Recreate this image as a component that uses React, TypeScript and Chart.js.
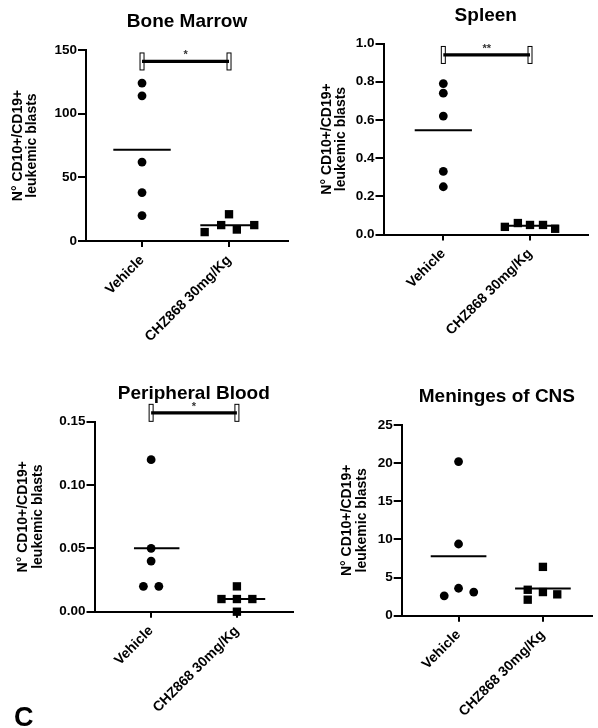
import React, { useEffect, useRef } from 'react';
import { Chart, registerables } from 'chart.js';

Chart.register(...registerables);

// ---------- data ----------
const categories = ['Vehicle', 'CHZ868 30mg/Kg'];
const yAxisTitle = ['N° CD10+/CD19+', 'leukemic blasts'];
const panelTitles = ['Bone Marrow', 'Spleen', 'Peripheral Blood', 'Meninges of CNS'];

const boneMarrowVehicle = [124, 114, 62, 38, 20];
const boneMarrowVehicleJitter = [0, 0, 0, 0, 0];
const boneMarrowChz = [7, 12.5, 21, 9, 12.5];
const boneMarrowChzJitter = [-0.28, -0.09, 0, 0.09, 0.29];
const boneMarrowAxis = [0, 150, 50, 0]; // min, max, step, decimals

const spleenVehicle = [0.79, 0.74, 0.62, 0.33, 0.25];
const spleenVehicleJitter = [0, 0, 0, 0, 0];
const spleenChz = [0.04, 0.06, 0.05, 0.05, 0.03];
const spleenChzJitter = [-0.29, -0.14, 0, 0.15, 0.29];
const spleenAxis = [0, 1.0, 0.2, 1];

const bloodVehicle = [0.12, 0.05, 0.04, 0.02, 0.02];
const bloodVehicleJitter = [0, 0, 0, -0.09, 0.09];
const bloodChz = [0.02, 0.01, 0.01, 0.01, 0.0];
const bloodChzJitter = [0, -0.18, 0, 0.18, 0];
const bloodAxis = [0, 0.15, 0.05, 2];

const cnsVehicle = [20.2, 9.4, 3.6, 2.6, 3.1];
const cnsVehicleJitter = [0, 0, 0, -0.17, 0.18];
const cnsChz = [6.4, 3.4, 2.1, 3.1, 2.8];
const cnsChzJitter = [0, -0.18, -0.18, 0, 0.17];
const cnsAxis = [0, 25, 5, 0];

// significance bars: [y value, label] (null = none)
const significance: ([number, string] | null)[] = [[141, '*'], [0.94, '**'], [0.157, '*'], null];

// ---------- layout / style ----------
const FONT = "'Liberation Sans', Arial, Helvetica, sans-serif";

type Layout = {
  box: { left: number; top: number; width: number; height: number };
  plot: { left: number; top: number; right: number; bottom: number };
  xRange: [number, number];
  titleCenter: number;
  yTitleMid: number;
  meanSpan: [number, number];
};

const layouts: Layout[] = [
  { box: { left: 0, top: 0, width: 299, height: 355 }, plot: { left: 86, top: 50, right: 288, bottom: 241 }, xRange: [0.356, 2.678], titleCenter: 22, yTitleMid: 25, meanSpan: [-0.33, 0.33] },
  { box: { left: 299, top: 0, width: 299, height: 355 }, plot: { left: 383.5, top: 43.5, right: 588, bottom: 234.5 }, xRange: [0.31, 2.669], titleCenter: 15.5, yTitleMid: 334, meanSpan: [-0.33, 0.33] },
  { box: { left: 0, top: 360, width: 299, height: 368 }, plot: { left: 94.5, top: 421.7, right: 295, bottom: 611.7 }, xRange: [0.34, 2.655], titleCenter: 393.5, yTitleMid: 30.5, meanSpan: [-0.2, 0.33] },
  { box: { left: 299, top: 360, width: 299, height: 368 }, plot: { left: 401.7, top: 425, right: 598, bottom: 615.7 }, xRange: [0.326, 2.583], titleCenter: 397, yTitleMid: 354.5, meanSpan: [-0.33, 0.33] },
];

const panelData = [
  { v: boneMarrowVehicle, vj: boneMarrowVehicleJitter, c: boneMarrowChz, cj: boneMarrowChzJitter, axis: boneMarrowAxis },
  { v: spleenVehicle, vj: spleenVehicleJitter, c: spleenChz, cj: spleenChzJitter, axis: spleenAxis },
  { v: bloodVehicle, vj: bloodVehicleJitter, c: bloodChz, cj: bloodChzJitter, axis: bloodAxis },
  { v: cnsVehicle, vj: cnsVehicleJitter, c: cnsChz, cj: cnsChzJitter, axis: cnsAxis },
];

const mean = (a: number[]) => a.reduce((s, x) => s + x, 0) / a.length;

const sigPlugin = {
  id: 'sigBar',
  afterDatasetsDraw(chart: any, _args: any, opts: any) {
    const sig = opts && opts.sig;
    if (!sig) return;
    const { ctx } = chart;
    const xs = chart.scales.x;
    const ys = chart.scales.y;
    const x1 = xs.getPixelForValue(1);
    const x2 = xs.getPixelForValue(2);
    const y = ys.getPixelForValue(sig[0]);
    ctx.save();
    for (const x of [x1, x2]) {
      ctx.fillStyle = '#fff';
      ctx.strokeStyle = '#000';
      ctx.lineWidth = 1;
      ctx.fillRect(x - 2, y - 8.5, 4, 17);
      ctx.strokeRect(x - 2, y - 8.5, 4, 17);
    }
    ctx.beginPath();
    ctx.moveTo(x1, y);
    ctx.lineTo(x2, y);
    ctx.lineWidth = 3.3;
    ctx.strokeStyle = '#000';
    ctx.stroke();
    ctx.fillStyle = '#333';
    ctx.font = `bold 11px ${FONT}`;
    ctx.textAlign = 'center';
    ctx.textBaseline = 'middle';
    ctx.fillText(sig[1], (x1 + x2) / 2, y - 6);
    ctx.restore();
  },
};

function Panel({ index }: { index: number }) {
  const ref = useRef<HTMLCanvasElement>(null);
  const L = layouts[index];
  useEffect(() => {
    const d = panelData[index];
    const [yMin, yMax, yStep, dec] = d.axis;
    const vMean = mean(d.v);
    const cMean = mean(d.c);
    const titleLH = 19 * 1.2;
    const yTitleLH = 14 * 1.05;
    const yTitleFirst = L.yTitleMid - yTitleLH / 2 - L.box.left;
    const chart = new Chart(ref.current as HTMLCanvasElement, {
      type: 'scatter',
      data: {
        datasets: [
          {
            type: 'scatter',
            data: d.v.map((y, i) => ({ x: 1 + d.vj[i], y })),
            pointStyle: 'circle',
            pointRadius: 4.4,
            pointBorderWidth: 0,
            backgroundColor: '#000',
            borderColor: '#000',
            clip: false,
          } as any,
          {
            type: 'scatter',
            data: d.c.map((y, i) => ({ x: 2 + d.cj[i], y })),
            pointStyle: 'rect',
            pointRadius: 5.9,
            pointBorderWidth: 0,
            backgroundColor: '#000',
            borderColor: '#000',
            clip: false,
          } as any,
          {
            type: 'line',
            data: [{ x: 1 + L.meanSpan[0], y: vMean }, { x: 1 + L.meanSpan[1], y: vMean }],
            borderColor: '#000',
            borderWidth: 2,
            pointRadius: 0,
            showLine: true,
            clip: false,
          } as any,
          {
            type: 'line',
            data: [{ x: 2 + L.meanSpan[0], y: cMean }, { x: 2 + L.meanSpan[1], y: cMean }],
            borderColor: '#000',
            borderWidth: 2,
            pointRadius: 0,
            showLine: true,
            clip: false,
          } as any,
        ],
      },
      options: {
        animation: false,
        responsive: false,
        maintainAspectRatio: false,
        devicePixelRatio: 1,
        events: [],
        layout: {
          padding: { left: 0, top: 0, bottom: 0, right: L.box.left + L.box.width - L.plot.right },
        },
        plugins: {
          legend: { display: false },
          tooltip: { enabled: false },
          title: {
            display: true,
            text: panelTitles[index],
            fullSize: false,
            color: '#000',
            font: { family: FONT, size: 19, weight: 'bold', lineHeight: 1.2 },
            padding: {
              top: L.titleCenter - L.box.top - titleLH / 2,
              bottom: L.plot.top - L.titleCenter - titleLH / 2,
            },
          },
          sigBar: { sig: significance[index] },
        } as any,
        scales: {
          x: {
            type: 'linear',
            min: L.xRange[0],
            max: L.xRange[1],
            afterBuildTicks: (s: any) => {
              s.ticks = [{ value: 1 }, { value: 2 }];
            },
            afterFit: (s: any) => {
              s.height = L.box.top + L.box.height - L.plot.bottom;
            },
            ticks: {
              autoSkip: false,
              minRotation: 45,
              maxRotation: 45,
              padding: 5,
              color: '#000',
              font: { family: FONT, size: 14, weight: 'bold' },
              callback: (v: any) => categories[Math.round(Number(v)) - 1] ?? '',
            },
            grid: { display: true, drawOnChartArea: false, drawTicks: true, tickLength: 6, lineWidth: 2, color: '#000' },
            border: { display: true, width: 2, color: '#000' },
          },
          y: {
            type: 'linear',
            min: yMin,
            max: yMax,
            afterFit: (s: any) => {
              s.width = L.plot.left - L.box.left;
            },
            ticks: {
              stepSize: yStep,
              padding: 1,
              color: '#000',
              font: { family: FONT, size: 13.5, weight: 'bold' },
              callback: (v: any) => Number(v).toFixed(dec),
            },
            grid: { display: true, drawOnChartArea: false, drawTicks: true, tickLength: 8, lineWidth: 2, color: '#000' },
            border: { display: true, width: 2, color: '#000' },
            title: {
              display: true,
              text: yAxisTitle,
              color: '#000',
              font: { family: FONT, size: 14, weight: 'bold', lineHeight: 1.05 },
              padding: { top: yTitleFirst - yTitleLH / 2, bottom: 0 },
            },
          },
        },
      } as any,
      plugins: [sigPlugin],
    });
    return () => chart.destroy();
  }, [index]);
  return (
    <canvas
      ref={ref}
      width={L.box.width}
      height={L.box.height}
      style={{ position: 'absolute', left: L.box.left, top: L.box.top, width: L.box.width, height: L.box.height }}
    />
  );
}

export default function App() {
  return (
    <div style={{ position: 'absolute', left: 0, top: 0, width: 598, height: 728, background: '#fff', overflow: 'hidden' }}>
      {[0, 1, 2, 3].map((i) => (
        <Panel key={i} index={i} />
      ))}
      <div
        style={{
          position: 'absolute',
          left: 14,
          top: 704,
          fontFamily: FONT,
          fontWeight: 'bold',
          fontSize: 27,
          lineHeight: '27px',
          color: '#000',
        }}
      >
        C
      </div>
    </div>
  );
}
